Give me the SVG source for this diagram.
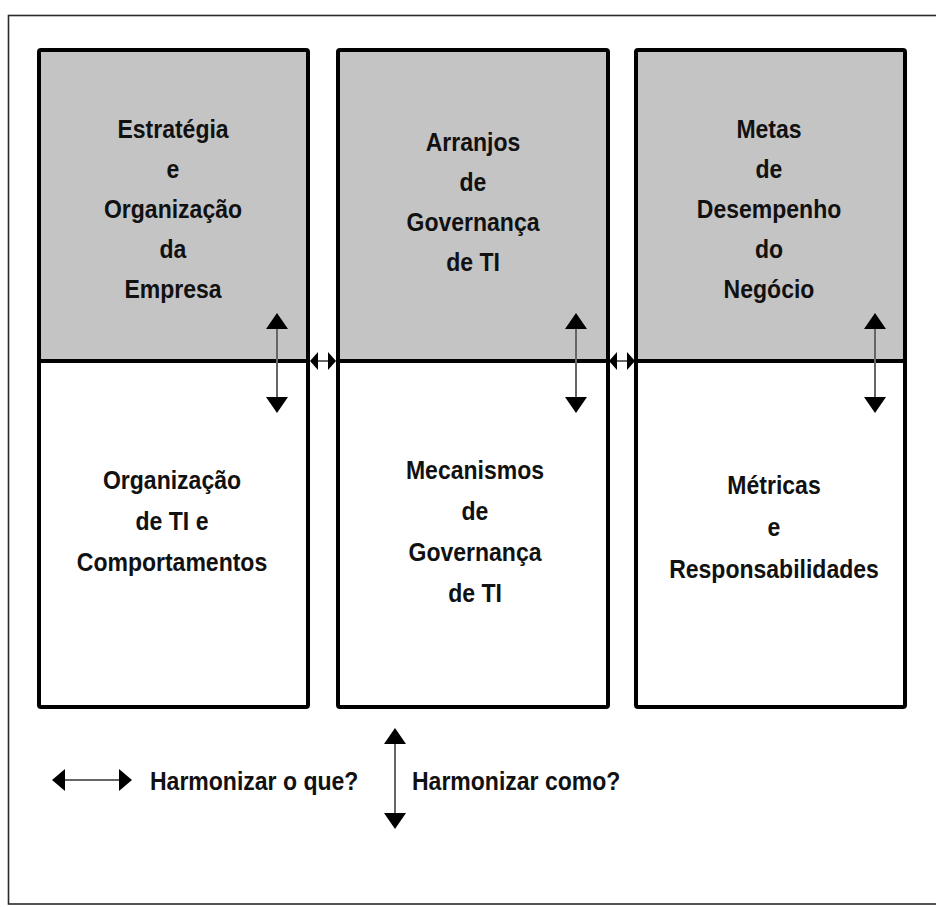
<svg xmlns="http://www.w3.org/2000/svg" width="936" height="907" viewBox="0 0 936 907">
  <style>
    .frame { fill: none; stroke: #2a2a2a; stroke-width: 1.6; }
    .top { fill: #c4c4c4; stroke: none; }
    .box { fill: none; stroke: #000; stroke-width: 4; }
    .div { stroke: #000; stroke-width: 4; }
    .lbl { font-family: "Liberation Sans", Arial, sans-serif; font-weight: bold; font-size: 26px; fill: #111; text-anchor: middle; }
    .leg { font-family: "Liberation Sans", Arial, sans-serif; font-weight: bold; font-size: 26px; fill: #111; text-anchor: start; }
    .shaft { stroke: #666; stroke-width: 2; fill: none; }
  </style>
  <defs>
    <marker id="vhead" markerUnits="userSpaceOnUse" viewBox="0 0 16 22" refX="0" refY="11" markerWidth="16" markerHeight="22" orient="auto-start-reverse">
      <path d="M0,0 L16,11 L0,22 z" fill="#000"/>
    </marker>
    <marker id="shead" markerUnits="userSpaceOnUse" viewBox="0 0 8 18" refX="0" refY="9" markerWidth="8" markerHeight="18" orient="auto-start-reverse">
      <path d="M0,0 L8,9 L0,18 z" fill="#000"/>
    </marker>
    <marker id="lhead" markerUnits="userSpaceOnUse" viewBox="0 0 13 22" refX="0" refY="11" markerWidth="13" markerHeight="22" orient="auto-start-reverse">
      <path d="M0,0 L13,11 L0,22 z" fill="#000"/>
    </marker>
  </defs>

  <rect width="936" height="907" fill="#fff"/>
  <rect class="frame" x="8.5" y="15.5" width="940" height="888.5"/>

  <!-- column 1 -->
  <g id="col-empresa">
    <rect class="top" x="39" y="50" width="269" height="311"/>
    <rect class="box" x="39" y="50" width="269" height="657" rx="2"/>
    <line class="div" x1="39" y1="361" x2="308" y2="361"/>
    <g id="estrategia">
      <text class="lbl" transform="translate(173,138) scale(0.885,1)">Estratégia</text>
      <text class="lbl" transform="translate(173,178) scale(0.885,1)">e</text>
      <text class="lbl" transform="translate(173,218) scale(0.885,1)">Organização</text>
      <text class="lbl" transform="translate(173,258) scale(0.885,1)">da</text>
      <text class="lbl" transform="translate(173,298) scale(0.885,1)">Empresa</text>
    </g>
    <g id="organizacao-ti">
      <text class="lbl" transform="translate(172,489) scale(0.885,1)">Organização</text>
      <text class="lbl" transform="translate(172,530) scale(0.885,1)">de TI e</text>
      <text class="lbl" transform="translate(172,571) scale(0.885,1)">Comportamentos</text>
    </g>
  </g>

  <!-- column 2 -->
  <g id="col-governanca">
    <rect class="top" x="338" y="50" width="270" height="311"/>
    <rect class="box" x="338" y="50" width="270" height="657" rx="2"/>
    <line class="div" x1="338" y1="361" x2="608" y2="361"/>
    <g id="arranjos">
      <text class="lbl" transform="translate(473,151) scale(0.885,1)">Arranjos</text>
      <text class="lbl" transform="translate(473,191) scale(0.885,1)">de</text>
      <text class="lbl" transform="translate(473,231) scale(0.885,1)">Governança</text>
      <text class="lbl" transform="translate(473,271) scale(0.885,1)">de TI</text>
    </g>
    <g id="mecanismos">
      <text class="lbl" transform="translate(475,479) scale(0.885,1)">Mecanismos</text>
      <text class="lbl" transform="translate(475,520) scale(0.885,1)">de</text>
      <text class="lbl" transform="translate(475,561) scale(0.885,1)">Governança</text>
      <text class="lbl" transform="translate(475,602) scale(0.885,1)">de TI</text>
    </g>
  </g>

  <!-- column 3 -->
  <g id="col-desempenho">
    <rect class="top" x="636" y="50" width="269" height="311"/>
    <rect class="box" x="636" y="50" width="269" height="657" rx="2"/>
    <line class="div" x1="636" y1="361" x2="905" y2="361"/>
    <g id="metas">
      <text class="lbl" transform="translate(769,138) scale(0.885,1)">Metas</text>
      <text class="lbl" transform="translate(769,178) scale(0.885,1)">de</text>
      <text class="lbl" transform="translate(769,218) scale(0.885,1)">Desempenho</text>
      <text class="lbl" transform="translate(769,258) scale(0.885,1)">do</text>
      <text class="lbl" transform="translate(769,298) scale(0.885,1)">Negócio</text>
    </g>
    <g id="metricas">
      <text class="lbl" transform="translate(774,494) scale(0.885,1)">Métricas</text>
      <text class="lbl" transform="translate(774,536) scale(0.885,1)">e</text>
      <text class="lbl" transform="translate(774,578) scale(0.885,1)">Responsabilidades</text>
    </g>
  </g>

  <!-- connectors -->
  <g id="connectors">
    <line class="shaft" x1="277" y1="329" x2="277" y2="397" marker-start="url(#vhead)" marker-end="url(#vhead)"/>
    <line class="shaft" x1="576" y1="329" x2="576" y2="397" marker-start="url(#vhead)" marker-end="url(#vhead)"/>
    <line class="shaft" x1="875" y1="329" x2="875" y2="397" marker-start="url(#vhead)" marker-end="url(#vhead)"/>
    <line class="shaft" x1="318" y1="361" x2="328" y2="361" marker-start="url(#shead)" marker-end="url(#shead)"/>
    <line class="shaft" x1="617" y1="361" x2="627" y2="361" marker-start="url(#shead)" marker-end="url(#shead)"/>
  </g>

  <!-- legend -->
  <g id="legend">
    <line class="shaft" x1="65" y1="780" x2="119" y2="780" marker-start="url(#lhead)" marker-end="url(#lhead)"/>
    <text class="leg" transform="translate(150,790) scale(0.885,1)">Harmonizar o que?</text>
    <line class="shaft" x1="395" y1="744" x2="395" y2="813" marker-start="url(#vhead)" marker-end="url(#vhead)"/>
    <text class="leg" transform="translate(412,790) scale(0.885,1)">Harmonizar como?</text>
  </g>
</svg>
